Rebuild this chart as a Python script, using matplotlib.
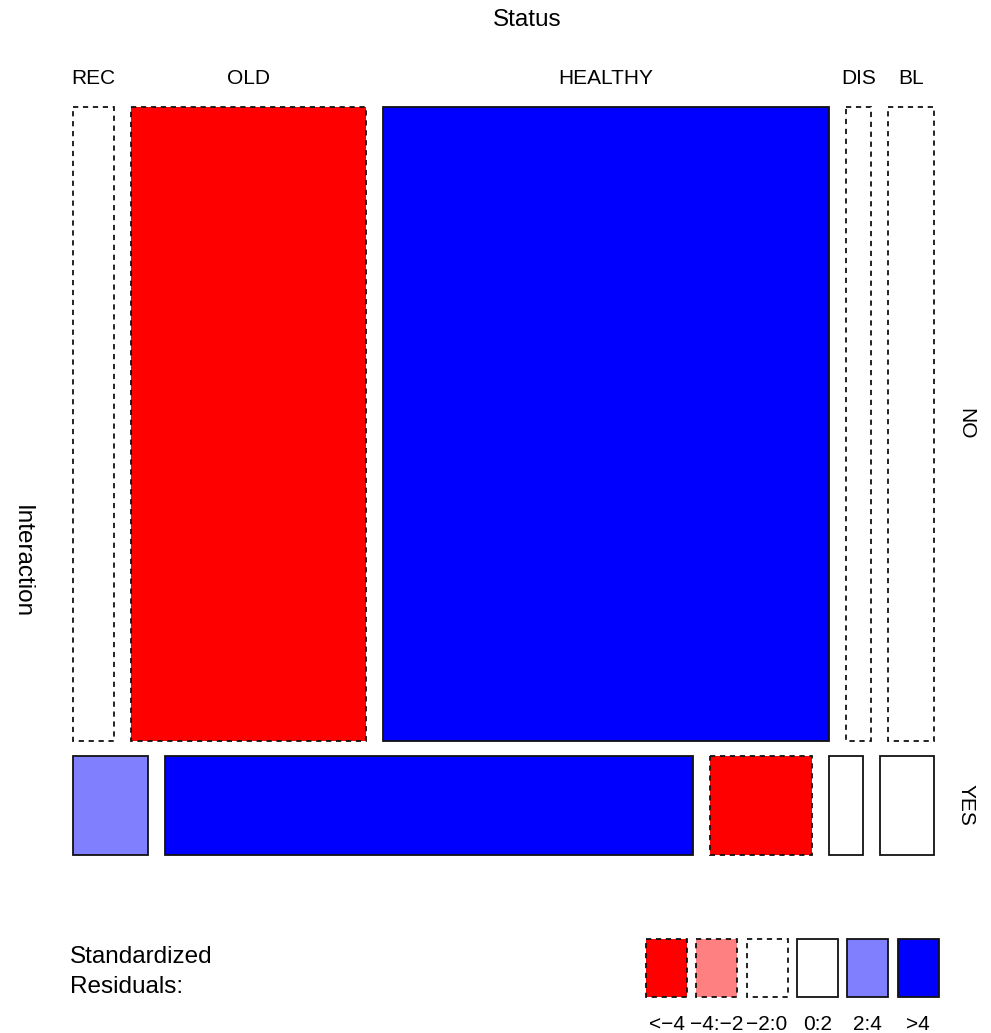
import numpy as np
import matplotlib
matplotlib.use("Agg")
import matplotlib.pyplot as plt
from matplotlib.patches import Rectangle

plt.rcParams['font.family'] = ['Liberation Sans', 'DejaVu Sans']

# ---- data ----
status = ["REC", "OLD", "HEALTHY", "DIS", "BL"]
interaction = ["NO", "YES"]
counts_no = [164, 940, 1780, 100, 184]
counts_yes = [47, 330, 64, 21, 34]
legend_labels = ["<\u22124", "\u22124:\u22122", "\u22122:0", "0:2", "2:4", ">4"]
legend_colors = ["#FF0000", "#FF8080", "#FFFFFF", "#FFFFFF", "#8080FF", "#0000FF"]
legend_dashed = [True, True, True, False, False, False]
breaks = [-4, -2, 0, 2, 4]

table = np.array([counts_no, counts_yes], dtype=float)
N = table.sum()
row_tot = table.sum(axis=1)
col_tot = table.sum(axis=0)
expected = np.outer(row_tot, col_tot) / N
resid = (table - expected) / np.sqrt(expected)

def shade_class(r):
    return int(np.searchsorted(breaks, r))

# ---- layout (pixel space) ----
W, H = 991, 1033
fig = plt.figure(figsize=(W / 100, H / 100), dpi=100)
ax = fig.add_axes([0, 0, 1, 1])
ax.set_xlim(0, W)
ax.set_ylim(H, 0)
ax.axis('off')

x0, x1 = 73, 934
y0, y1 = 107, 855
gx, gy = 17, 15
lw = 1.3
dash = (0, (2.9, 2.6))
fs_lab = 15

avail_h = (y1 - y0) - gy * (len(interaction) - 1)
ytop = y0
for i, rname in enumerate(interaction):
    h = avail_h * row_tot[i] / N
    avail_w = (x1 - x0) - gx * (len(status) - 1)
    xl = x0
    for j, cname in enumerate(status):
        w = avail_w * table[i, j] / row_tot[i]
        k = shade_class(resid[i, j])
        ax.add_patch(Rectangle((xl, ytop), w, h, facecolor=legend_colors[k],
                               edgecolor='#111111', lw=lw,
                               linestyle=dash if legend_dashed[k] else '-'))
        if i == 0:
            ax.text(xl + w / 2, 79, cname, ha='center', va='center', fontsize=fs_lab)
        xl += w + gx
    ax.text(966, ytop + h / 2, rname, ha='center', va='center', fontsize=fs_lab,
            rotation=-90)
    ytop += h + gy

ax.text(527, 20, "Status", ha='center', va='center', fontsize=17.5)
ax.text(22, 562, "Interaction", ha='center', va='center', fontsize=17.5,
        rotation=-90)

# ---- legend ----
ax.text(70, 957, "Standardized", ha='left', va='center', fontsize=17.5)
ax.text(70, 987, "Residuals:", ha='left', va='center', fontsize=17.5)
lx0, lstep, lw_box = 646, 50.3, 41
ly0, ly1 = 939, 997
for k, lab in enumerate(legend_labels):
    xl = lx0 + k * lstep
    ax.add_patch(Rectangle((xl, ly0), lw_box, ly1 - ly0,
                           facecolor=legend_colors[k], edgecolor='#111111', lw=lw,
                           linestyle=dash if legend_dashed[k] else '-'))
    ax.text(xl + lw_box / 2, 1025, lab, ha='center', va='center', fontsize=15)

fig.savefig("out.png", dpi=100)
